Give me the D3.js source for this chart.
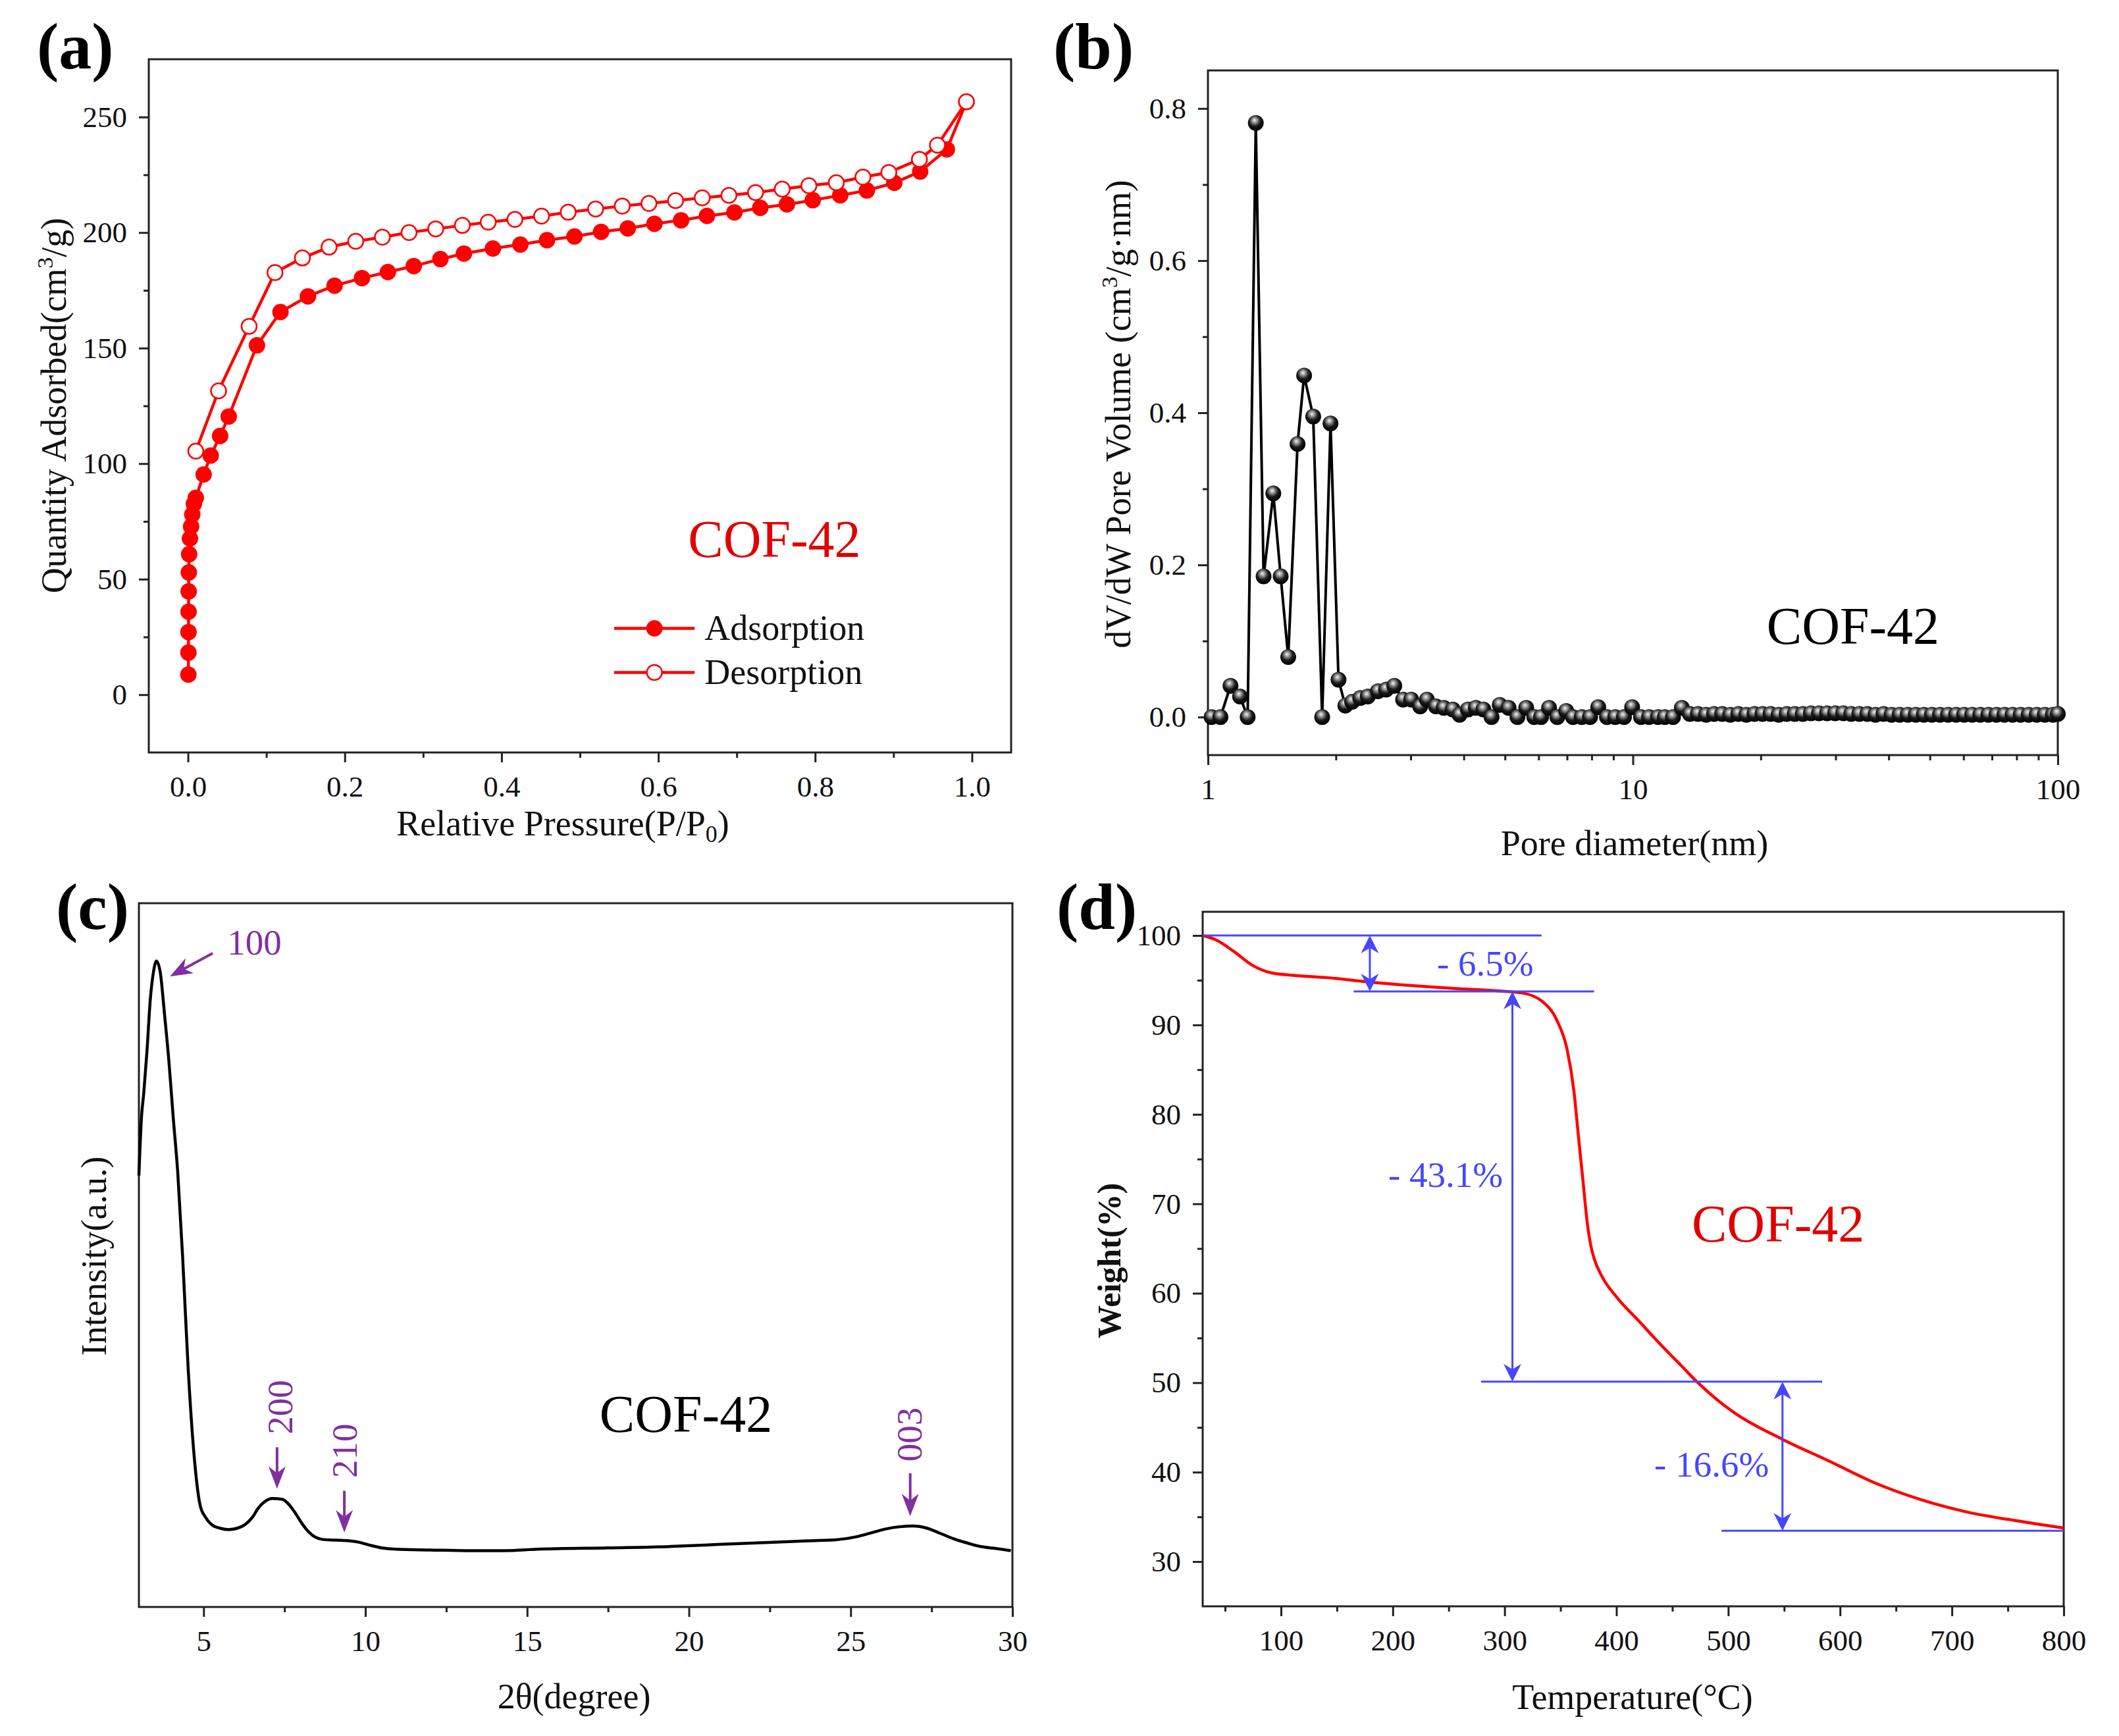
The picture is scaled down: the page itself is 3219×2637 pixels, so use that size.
<!DOCTYPE html>
<html>
<head>
<meta charset="utf-8">
<script src="https://cdn.jsdelivr.net/npm/d3@7"></script>
<style>
  body { margin: 0; background: #fff; }
  svg text { font-family: "Liberation Serif", "Times New Roman", serif; }
</style>
</head>
<body>
<svg id="fig" width="3219" height="2637"></svg>
<script>
// ---- (a) N2 isotherm ----
const adsP = [0.0005, 0.0006, 0.0007, 0.0008, 0.0009, 0.0011, 0.0015, 0.0025, 0.004, 0.0055, 0.0075, 0.010,
  0.020, 0.029, 0.041, 0.052, 0.088, 0.118, 0.153, 0.187, 0.222, 0.255, 0.288, 0.322, 0.352, 0.389, 0.424,
  0.458, 0.493, 0.527, 0.561, 0.595, 0.629, 0.662, 0.697, 0.730, 0.764, 0.797, 0.832, 0.866, 0.901, 0.934,
  0.968, 0.993];
const adsQ = [8.7, 18.2, 27.1, 35.9, 44.7, 52.9, 60.8, 67.6, 72.8, 78.0, 82.6, 85.2,
  95.3, 103.5, 112.0, 120.4, 151.2, 165.6, 172.4, 177.0, 180.3, 182.9, 185.5, 188.5, 190.9, 193.1, 194.8,
  196.7, 198.3, 200.3, 201.8, 203.8, 205.3, 207.2, 208.7, 210.7, 212.2, 214.0, 216.1, 218.2, 221.5, 226.4,
  236.0, 256.5];
const desP = [0.993, 0.956, 0.933, 0.894, 0.861, 0.827, 0.792, 0.758, 0.724, 0.690, 0.656, 0.622, 0.588,
  0.554, 0.520, 0.485, 0.451, 0.417, 0.383, 0.350, 0.316, 0.282, 0.248, 0.214, 0.180, 0.146, 0.111, 0.078,
  0.039, 0.010];
const desQ = [256.6, 237.8, 231.7, 226.0, 224.0, 221.6, 220.3, 218.8, 217.3, 216.1, 215.0, 213.8, 212.6,
  211.5, 210.2, 208.8, 207.1, 205.7, 204.5, 203.1, 201.6, 200.0, 198.0, 196.2, 193.7, 189.0, 182.7, 159.4,
  131.5, 105.4];
const isoTicksX = [0, 0.2, 0.4, 0.6, 0.8, 1.0];
const isoMinorX = [0.1, 0.3, 0.5, 0.7, 0.9];
const isoTicksY = [0, 50, 100, 150, 200, 250];
const isoMinorY = [25, 75, 125, 175, 225];

// ---- (b) pore size distribution ----
const poreD = [1.02, 1.07, 1.13, 1.19, 1.24, 1.296, 1.352, 1.425, 1.483, 1.545,
  1.625, 1.684, 1.769, 1.857, 1.943, 2.029, 2.105, 2.184, 2.283, 2.377,
  2.512, 2.626, 2.745, 2.879, 3.009, 3.158, 3.276, 3.44, 3.59, 3.77,
  3.91, 4.09, 4.27, 4.45, 4.65, 4.86, 5.10, 5.35, 5.61, 5.86,
  6.08, 6.35, 6.64, 6.97, 7.23, 7.58, 7.93, 8.29, 8.69, 9.09,
  9.53, 9.96, 10.45, 10.92, 11.46, 11.89, 12.43, 13.04,
  13.62, 14.23, 14.87, 15.53, 16.23, 16.95, 17.71, 18.50, 19.33, 20.19,
  21.09, 22.04, 23.02, 24.05, 25.12, 26.25, 27.42, 28.65, 29.93, 31.26,
  32.66, 34.12, 35.64, 37.24, 38.90, 40.64, 42.45, 44.35, 46.33, 48.40,
  50.56, 52.82, 55.18, 57.65, 60.22, 62.91, 65.72, 68.66, 71.73, 74.93,
  78.28, 81.78, 85.43, 89.25, 93.24, 97.40, 100.0];
const poreV = [0, 0, 0.041, 0.027, 0, 0.781, 0.185, 0.294, 0.185, 0.079,
  0.359, 0.449, 0.395, 0, 0.386, 0.049, 0.015, 0.020, 0.025, 0.027,
  0.034, 0.036, 0.041, 0.023, 0.023, 0.014, 0.023, 0.014, 0.012, 0.010,
  0.003, 0.010, 0.012, 0.010, 0.0, 0.016, 0.012, 0.0, 0.012, 0.0,
  0.0, 0.012, 0.0, 0.008, 0.0, 0.0, 0.0, 0.013, 0.0, 0.0,
  0.0, 0.013, 0.0, 0.0, 0.0, 0.0, 0.0, 0.012,
  0.004, 0.004, 0.003, 0.004, 0.004, 0.003, 0.004, 0.003, 0.004, 0.004,
  0.004, 0.003, 0.004, 0.004, 0.004, 0.005, 0.005, 0.005, 0.005, 0.005,
  0.004, 0.004, 0.004, 0.003, 0.004, 0.003, 0.003, 0.003, 0.003, 0.003,
  0.003, 0.003, 0.003, 0.003, 0.003, 0.003, 0.003, 0.003, 0.003, 0.003,
  0.003, 0.003, 0.003, 0.003, 0.003, 0.003, 0.004];
const poreTicksX = [1, 10, 100];
const poreMinorX = [2, 3, 4, 5, 6, 7, 8, 9, 20, 30, 40, 50, 60, 70, 80, 90];
const poreTicksY = [0.0, 0.2, 0.4, 0.6, 0.8];
const poreMinorY = [0.1, 0.3, 0.5, 0.7];

// ---- (c) PXRD ----
const xrdTheta = [3.00, 3.08, 3.15, 3.25, 3.35, 3.45, 3.54, 3.66, 3.79, 3.93, 4.06, 4.20, 4.35, 4.52, 4.69,
  4.89, 5.05, 5.25, 5.50, 5.77, 6.05, 6.28, 6.50, 6.70, 6.90, 7.12, 7.43, 7.65, 7.84, 8.05, 8.26, 8.67,
  9.10, 9.50, 9.80, 10.12, 10.50, 10.95, 12.0, 13.24, 14.3, 15.31, 17.5, 19.46, 21.0, 22.58, 23.7, 24.65,
  25.2, 25.69, 26.1, 26.52, 26.94, 27.35, 27.75, 28.18, 28.6, 29.0, 29.5, 29.95];
const xrdI = [61.3, 69.6, 73.0, 79.0, 86.2, 90.2, 91.8, 90.2, 84.3, 77.4, 69.6, 61.8, 49.9, 34.1, 22.4,
  14.5, 12.8, 11.7, 11.2, 11.0, 11.2, 11.7, 12.7, 14.1, 15.0, 15.4, 15.3, 14.5, 13.3, 11.8, 10.6, 9.6,
  9.5, 9.4, 9.2, 8.8, 8.4, 8.2, 8.1, 8.0, 8.0, 8.2, 8.4, 8.6, 8.9, 9.2, 9.4, 9.6,
  10.0, 10.6, 11.1, 11.4, 11.5, 11.2, 10.5, 9.7, 9.1, 8.6, 8.3, 8.0];
const xrdTicksX = [5, 10, 15, 20, 25, 30];
const xrdMinorX = [7.5, 12.5, 17.5, 22.5, 27.5];

// ---- (d) TGA ----
const tgaT = [30, 42, 58, 74, 92, 111, 142, 179, 216, 255, 295, 316, 334, 347, 356, 362, 366, 370, 374,
  377, 380, 387, 400, 420, 440, 458, 472, 490, 506, 548, 590, 631, 673, 715, 756, 800];
const tgaW = [100.0, 99.5, 98.2, 96.7, 95.8, 95.55, 95.28, 94.79, 94.4, 94.07, 93.8, 93.57, 92.6, 90.45,
  87.2, 82.6, 77.6, 72.7, 67.8, 65.4, 63.9, 61.9, 59.6, 56.9, 54.2, 51.9, 50.1, 48.1, 46.6, 43.7, 41.25,
  38.8, 36.9, 35.5, 34.6, 33.75];
const tgaTicksX = [100, 200, 300, 400, 500, 600, 700, 800];
const tgaMinorX = [50, 150, 250, 350, 450, 550, 650, 750];
const tgaTicksY = [30, 40, 50, 60, 70, 80, 90, 100];
const tgaMinorY = [35, 45, 55, 65, 75, 85, 95];
const stepLevels = [100, 93.74, 50.11, 33.44];
const stepLabels = ["- 6.5%", "- 43.1%", "- 16.6%"];

const FONT = '"Liberation Serif", "Times New Roman", serif';
const RED = "#ff0000", BLUE = "#4646ff", PURPLE = "#8030a0", AXIS = "#222";
const svg = d3.select("#fig");

const defs = svg.append("defs");
const ball = defs.append("radialGradient").attr("id", "ball")
  .attr("cx", "45%").attr("cy", "38%").attr("r", "60%").attr("fx", "42%").attr("fy", "32%");
ball.append("stop").attr("offset", "0%").attr("stop-color", "#f4f4f4");
ball.append("stop").attr("offset", "25%").attr("stop-color", "#9a9a9a");
ball.append("stop").attr("offset", "60%").attr("stop-color", "#1a1a1a");
ball.append("stop").attr("offset", "100%").attr("stop-color", "#000");

function styleAxis(s) {
  s.select(".domain").remove();
  s.selectAll(".tick line").attr("stroke", AXIS).attr("stroke-width", 3);
  s.selectAll(".tick text").attr("font-family", FONT).attr("font-size", 45).attr("fill", "#111");
}

function bottomAxis(g, x, h, major, minor, fmt) {
  if (minor) g.append("g").attr("transform", `translate(0,${h})`)
    .call(d3.axisBottom(x).tickValues(minor).tickSize(8).tickFormat("")).call(styleAxis);
  g.append("g").attr("transform", `translate(0,${h})`)
    .call(d3.axisBottom(x).tickValues(major).tickSize(15).tickPadding(20).tickFormat(fmt)).call(styleAxis);
}

function leftAxis(g, y, major, minor, fmt) {
  if (minor) g.append("g")
    .call(d3.axisLeft(y).tickValues(minor).tickSize(8).tickFormat("")).call(styleAxis);
  g.append("g")
    .call(d3.axisLeft(y).tickValues(major).tickSize(15).tickPadding(18).tickFormat(fmt)).call(styleAxis);
}

function frame(g, w, h) {
  g.append("rect").attr("width", w).attr("height", h)
    .attr("fill", "none").attr("stroke", AXIS).attr("stroke-width", 3);
}

function panelLabel(txt, x, y) {
  svg.append("text").attr("x", x).attr("y", y).attr("font-size", 100).attr("font-weight", "bold")
    .attr("fill", "#000").text(txt);
}

function xTitle(g, cx, by) {
  return g.append("text").attr("x", cx).attr("y", by).attr("text-anchor", "middle")
    .attr("font-size", 54).attr("fill", "#111");
}

function yTitle(g, bx, cy) {
  return g.append("text").attr("transform", `translate(${bx},${cy}) rotate(-90)`)
    .attr("text-anchor", "middle").attr("font-size", 54).attr("fill", "#111");
}

function arrowHead(g, x, y, deg, color, L, W) {
  const p = [[0, 0], [-L, -W / 2], [-L * 0.7, 0], [-L, W / 2]];
  g.append("path").attr("d", "M" + p.map(q => q.join(",")).join("L") + "Z")
    .attr("transform", `translate(${x},${y}) rotate(${deg})`).attr("fill", color);
}

// ================= (a) =================
{
  const L = 226, T = 90, W = 1310, H = 1053;
  const g = svg.append("g").attr("transform", `translate(${L},${T})`);
  const x = d3.scaleLinear().domain([-0.05, 1.05]).range([0, W]);
  const y = d3.scaleLinear().domain([-25, 275]).range([H, 0]);
  bottomAxis(g, x, H, isoTicksX, isoMinorX, d3.format(".1f"));
  leftAxis(g, y, isoTicksY, isoMinorY, d3.format("d"));
  frame(g, W, H);

  const ads = d3.zip(adsP, adsQ), des = d3.zip(desP, desQ);
  const line = d3.line().x(d => x(d[0])).y(d => y(d[1]));
  g.append("path").datum(ads).attr("d", line).attr("fill", "none").attr("stroke", RED).attr("stroke-width", 4.5);
  g.append("path").datum(des).attr("d", line).attr("fill", "none").attr("stroke", RED).attr("stroke-width", 4.5);
  g.selectAll(".ads").data(ads).join("circle").attr("class", "ads")
    .attr("cx", d => x(d[0])).attr("cy", d => y(d[1])).attr("r", 12.5).attr("fill", RED);
  g.selectAll(".des").data(des).join("circle").attr("class", "des")
    .attr("cx", d => x(d[0])).attr("cy", d => y(d[1])).attr("r", 11.5)
    .attr("fill", "#fff").attr("stroke", RED).attr("stroke-width", 2.5);

  g.append("text").attr("x", x(0.638)).attr("y", y(59.5)).attr("font-size", 80).attr("fill", "#e00000").text("COF-42");

  // legend
  const lx1 = x(0.5436), lx2 = x(0.6463), lm = x(0.595);
  [[28.7, "Adsorption", true], [9.6, "Desorption", false]].forEach(([v, name, filled]) => {
    const yy = y(v);
    g.append("line").attr("x1", lx1).attr("x2", lx2).attr("y1", yy).attr("y2", yy)
      .attr("stroke", RED).attr("stroke-width", 4.5);
    g.append("circle").attr("cx", lm).attr("cy", yy).attr("r", filled ? 12.5 : 11.5)
      .attr("fill", filled ? RED : "#fff").attr("stroke", RED).attr("stroke-width", filled ? 0 : 2.5);
    g.append("text").attr("x", x(0.659)).attr("y", yy + 17).attr("font-size", 54).attr("fill", "#111").text(name);
  });

  const xt = xTitle(g, 855 - L, 1269 - T);
  xt.append("tspan").text("Relative Pressure(P/P");
  xt.append("tspan").attr("font-size", 36).attr("dy", 10).text("0");
  xt.append("tspan").attr("dy", -10).text(")");
  const yt = yTitle(g, 100 - L, 616 - T);
  yt.append("tspan").text("Quantity Adsorbed(cm");
  yt.append("tspan").attr("font-size", 34).attr("dy", -20).text("3");
  yt.append("tspan").attr("dy", 20).text("/g)");
}

// ================= (b) =================
{
  const L = 1835, T = 107, W = 1291, H = 1040;
  const g = svg.append("g").attr("transform", `translate(${L},${T})`);
  const x = d3.scaleLog().domain([1, 100]).range([0, W]);
  const y = d3.scaleLinear().domain([-0.05, 0.85]).range([H, 0]);
  bottomAxis(g, x, H, poreTicksX, poreMinorX, d => d);
  leftAxis(g, y, poreTicksY, poreMinorY, d3.format(".1f"));
  frame(g, W, H);

  const pts = d3.zip(poreD, poreV);
  g.append("path").datum(pts).attr("d", d3.line().x(d => x(d[0])).y(d => y(d[1])))
    .attr("fill", "none").attr("stroke", "#000").attr("stroke-width", 4);
  g.selectAll(".pt").data(pts).join("circle").attr("class", "pt")
    .attr("cx", d => x(d[0])).attr("cy", d => y(d[1])).attr("r", 12).attr("fill", "url(#ball)");

  g.append("text").attr("x", x(20.65)).attr("y", y(0.0966)).attr("font-size", 80).attr("fill", "#000").text("COF-42");

  xTitle(g, 2483 - L, 1299 - T).text("Pore diameter(nm)");
  const yt = yTitle(g, 1717 - L, 629 - T);
  yt.append("tspan").text("dV/dW Pore Volume (cm");
  yt.append("tspan").attr("font-size", 34).attr("dy", -20).text("3");
  yt.append("tspan").attr("dy", 20).text("/g\u00b7nm)");
}

// ================= (c) =================
{
  const L = 211, T = 1372, W = 1327, H = 1069;
  const g = svg.append("g").attr("transform", `translate(${L},${T})`);
  const x = d3.scaleLinear().domain([3, 30]).range([0, W]);
  const y = d3.scaleLinear().domain([0, 100]).range([H, 0]);
  bottomAxis(g, x, H, xrdTicksX, xrdMinorX, d3.format("d"));
  frame(g, W, H);

  g.append("path").datum(d3.zip(xrdTheta, xrdI))
    .attr("d", d3.line().curve(d3.curveMonotoneX).x(d => x(d[0])).y(d => y(d[1])))
    .attr("fill", "none").attr("stroke", "#000").attr("stroke-width", 4.5);

  // peak indices
  const pline = (x1, y1, x2, y2) => {
    const a = Math.atan2(y2 - y1, x2 - x1), back = 24;
    g.append("line").attr("x1", x1).attr("y1", y1)
      .attr("x2", x2 - back * Math.cos(a)).attr("y2", y2 - back * Math.sin(a))
      .attr("stroke", PURPLE).attr("stroke-width", 4);
    arrowHead(g, x2, y2, a * 180 / Math.PI, PURPLE, 34, 26);
  };
  pline(x(5.28), y(92.9), x(3.96), y(89.6));
  g.append("text").attr("x", x(5.73)).attr("y", y(92.7)).attr("font-size", 55).attr("fill", PURPLE).text("100");
  [["200", 7.27, 22.7, 16.8, 7.74, 28.4], ["210", 9.35, 16.5, 10.6, 9.73, 22.2], ["003", 26.84, 19.0, 12.9, 27.2, 24.5]]
    .forEach(([t, ax, y1, y2, tx, ty]) => {
      pline(x(ax), y(y1), x(ax), y(y2));
      g.append("text").attr("transform", `translate(${x(tx)},${y(ty)}) rotate(-90)`)
        .attr("text-anchor", "middle").attr("font-size", 55).attr("fill", PURPLE).text(t);
    });

  g.append("text").attr("x", x(17.24)).attr("y", y(24.9)).attr("font-size", 80).attr("fill", "#000").text("COF-42");

  const xt = xTitle(g, 872 - L, 2595 - T);
  xt.text("2\u03b8(degree)");
  yTitle(g, 161 - L, 1908 - T).text("Intensity(a.u.)");
}

// ================= (d) =================
{
  const L = 1827, T = 1385, W = 1308, H = 1055;
  const g = svg.append("g").attr("transform", `translate(${L},${T})`);
  const x = d3.scaleLinear().domain([30, 800]).range([0, W]);
  const y = d3.scaleLinear().domain([25, 102.65]).range([H, 0]);
  bottomAxis(g, x, H, tgaTicksX, tgaMinorX, d3.format("d"));
  leftAxis(g, y, tgaTicksY, tgaMinorY, d3.format("d"));
  frame(g, W, H);

  g.append("path").datum(d3.zip(tgaT, tgaW))
    .attr("d", d3.line().curve(d3.curveMonotoneX).x(d => x(d[0])).y(d => y(d[1])))
    .attr("fill", "none").attr("stroke", RED).attr("stroke-width", 4.5);

  // step guide lines and double arrows
  const guides = [[30, 333], [165, 380], [279, 584], [494, 800]];
  stepLevels.forEach((v, i) => {
    g.append("line").attr("x1", x(guides[i][0])).attr("x2", x(guides[i][1]))
      .attr("y1", y(v)).attr("y2", y(v)).attr("stroke", BLUE).attr("stroke-width", 3);
  });
  const arrowT = [179.5, 307, 548.5];
  arrowT.forEach((t, i) => {
    const xx = x(t), y1 = y(stepLevels[i]), y2 = y(stepLevels[i + 1]);
    g.append("line").attr("x1", xx).attr("x2", xx).attr("y1", y1 + 18).attr("y2", y2 - 18)
      .attr("stroke", BLUE).attr("stroke-width", 3);
    arrowHead(g, xx, y1, -90, BLUE, 27, 27);
    arrowHead(g, xx, y2, 90, BLUE, 27, 27);
  });
  const labelPos = [[239.6, 95.5], [196, 71.9], [433.9, 39.5]];
  stepLabels.forEach((t, i) => {
    g.append("text").attr("x", x(labelPos[i][0])).attr("y", y(labelPos[i][1]))
      .attr("font-size", 55).attr("fill", BLUE).text(t);
  });

  g.append("text").attr("x", x(467.4)).attr("y", y(65.8)).attr("font-size", 80).attr("fill", "#e00000").text("COF-42");

  xTitle(g, 2480 - L, 2596 - T).text("Temperature(\u00b0C)");
  yTitle(g, 1702 - L, 1915 - T).attr("font-weight", "bold").attr("font-size", 50).text("Weight(%)");
}

panelLabel("(a)", 56, 104);
panelLabel("(b)", 1600, 104);
panelLabel("(c)", 85, 1411);
panelLabel("(d)", 1605, 1411);
</script>
</body>
</html>
